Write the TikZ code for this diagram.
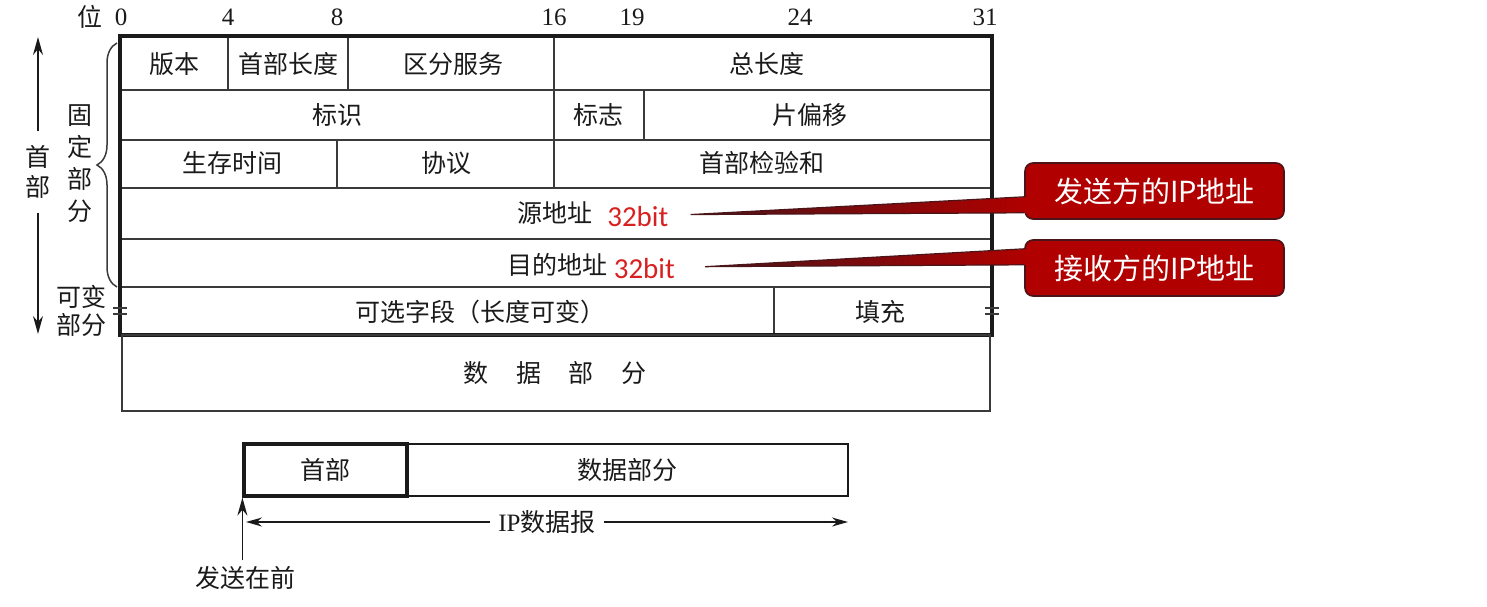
\documentclass[tikz,border=0pt]{standalone}
\usepackage{fontspec}
\setmainfont{Liberation Serif}
\newfontfamily\cjk{Noto Sans CJK SC}
\newfontfamily\bitfont{Carlito}
\usetikzlibrary{arrows.meta,decorations.pathreplacing}
\usepackage{xcolor}
\definecolor{ink}{HTML}{1A1A1A}
\definecolor{rule}{HTML}{3A3A3A}
\definecolor{bitred}{HTML}{D82020}
\definecolor{callred}{HTML}{B00000}
\definecolor{calldark}{HTML}{4A1418}
\tikzset{
  every node/.style={font=\cjk\fontsize{12.5}{14}\selectfont,text=ink,inner sep=1pt},
  frame/.style={draw=ink,line width=1.6pt},
  grid/.style={draw=rule,line width=0.75pt},
  bitnum/.style={font=\rmfamily\fontsize{12.5}{14}\selectfont},
  vtext/.style={align=center,font=\cjk\fontsize{12.5}{#1}\selectfont},
  bitlen/.style={font=\bitfont\fontsize{14.5}{16}\selectfont,text=bitred},
  callout/.style={draw=calldark,line width=0.8pt,fill=callred,rounded corners=4pt,minimum width=129.5pt,minimum height=28pt,text=white,font=\cjk\fontsize{14.5}{16}\selectfont},
  pointer/.style={draw=calldark,line width=0.6pt},
  arrow/.style={-{Stealth[length=9pt,width=5pt]},line width=0.75pt,draw=ink},
  dimarrow/.style={{Stealth[length=8pt,width=4.5pt]}-{Stealth[length=8pt,width=4.5pt]},line width=0.75pt,draw=ink},
  pktbox/.style={draw=ink,minimum height=26pt,inner sep=0pt},
}

\begin{document}
\begin{tikzpicture}[x=0.5pt,y=-0.5pt]
  \useasboundingbox (0,0) rectangle (1487,606);

  % bit positions
  \node (poslbl) at (90,17) {位};
  \foreach \x/\b in {121/0,228/4,337/8,554/16,632/19,800/24,985/31}
    \node[bitnum] (bit\b) at (\x,17) {\b};

  % header grid
  \draw[grid] (120,90) -- (992,90) (120,140) -- (992,140) (120,188) -- (992,188)
              (120,239) -- (992,239) (120,287) -- (992,287);
  \draw[grid] (228,36) -- (228,90) (348,36) -- (348,90) (554,36) -- (554,188)
              (644,90) -- (644,140) (337,140) -- (337,188) (774,287) -- (774,335);
  \draw[frame] (120,36) rectangle (992,335);
  \draw[grid] (122,335) rectangle (990,411);
  \draw[grid] (113,308) -- (127,308) (113,314) -- (127,314)
              (985,308) -- (999,308) (985,314) -- (999,314);

  % fields
  \node (ver) at (174,64) {版本};
  \node (ihl) at (288,64) {首部长度};
  \node (tos) at (453,64) {区分服务};
  \node (totlen) at (767,64) {总长度};
  \node (ident) at (337,115) {标识};
  \node (flags) at (598,115) {标志};
  \node (fragoff) at (810,115) {片偏移};
  \node (ttl) at (232,163) {生存时间};
  \node (proto) at (446,163) {协议};
  \node (cksum) at (762,163) {首部检验和};
  \node (srcaddr) at (555,213) {源地址};
  \node[bitlen,anchor=base west] (srcbit) at ([xshift=5pt,yshift=-2pt]srcaddr.base east) {32bit};
  \node (dstaddr) at (557,265) {目的地址};
  \node[bitlen,anchor=base west] (dstbit) at ([xshift=1pt,yshift=-2pt]dstaddr.base east) {32bit};
  \node (opts) at (480,312) {可选字段（长度可变）};
  \node (pad) at (880,312) {填充};
  \node (data) at (555,373) {数\hspace{1.1em}据\hspace{1.1em}部\hspace{1.1em}分};

  % left side labels
  \node[vtext=15pt,inner ysep=7pt] (hdrlbl) at (38,172) {首\\部};
  \coordinate (hdrtop) at (38,37);
  \coordinate (hdrbot) at (38,334);
  \draw[arrow] (hdrlbl.north) -- (hdrtop);
  \draw[arrow] (hdrlbl.south) -- (hdrbot);
  \node[vtext=16pt] (fixlbl) at (80,164) {固\\定\\部\\分};
  \node[vtext=14pt] (varlbl) at (81,311) {可变\\部分};
  \draw[grid,decorate,decoration={brace,amplitude=10pt}] (117,287) -- (117,43);

  % callouts
  \node[callout] (srccall) at (1154.5,191) {发送方的IP地址};
  \node[callout] (dstcall) at (1154.5,268) {接收方的IP地址};
  \coordinate (srctip) at ([xshift=10pt,yshift=1pt]srcbit.east);
  \coordinate (dsttip) at ([xshift=14pt,yshift=1pt]dstbit.east);
  \shade[left color=calldark,right color=callred] (srctip) -- ([xshift=2pt,yshift=11.5pt]srccall.south west)
    -- ([xshift=2pt,yshift=3.5pt]srccall.south west) -- cycle;
  \draw[pointer] (srctip) -- ([yshift=11.5pt]srccall.south west) (srctip) -- ([yshift=3.5pt]srccall.south west);
  \shade[left color=calldark,right color=callred] (dsttip) -- ([xshift=2pt,yshift=24pt]dstcall.south west)
    -- ([xshift=2pt,yshift=16pt]dstcall.south west) -- cycle;
  \draw[pointer] (dsttip) -- ([yshift=24pt]dstcall.south west) (dsttip) -- ([yshift=16pt]dstcall.south west);

  % datagram layout
  \node[pktbox,line width=0.75pt,minimum width=220.5pt] (pdata) at (627.5,470) {数据部分};
  \node[pktbox,line width=1.6pt,minimum width=81.5pt] (phdr) at (325.5,470) {首部};
  \node (sendlbl) at (245,578) {发送在前};
  \draw[arrow] ([yshift=2pt]sendlbl.north -| phdr.south west) -- (phdr.south west);
  \coordinate (dgl) at (246,522);
  \coordinate (dgr) at (848,522);
  \draw[dimarrow] (dgl) -- node[fill=white,inner xsep=4pt] (dglbl) {{\rmfamily IP}数据报} (dgr);
\end{tikzpicture}
\end{document}
